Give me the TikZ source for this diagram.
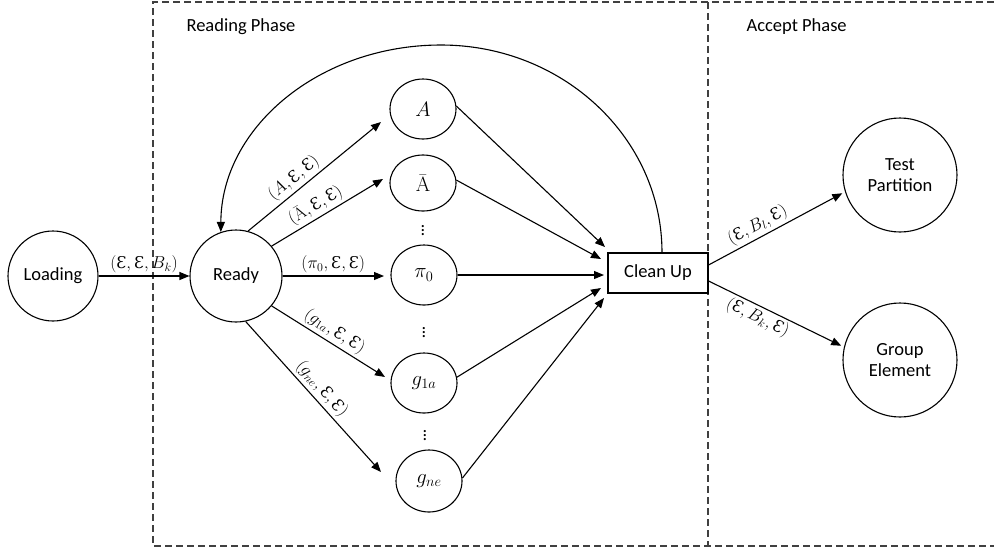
\documentclass[tikz,border=0pt]{standalone}
\usepackage[no-math]{fontspec}
\setmainfont{Carlito}
\newfontfamily\efont[Scale=0.9]{DejaVu Serif}
\usetikzlibrary{arrows.meta,shapes.geometric}
\newcommand{\ee}{\mbox{\efont Ɛ}}
\begin{document}
\begin{tikzpicture}[x=1pt,y=-1pt,
  every node/.style={font=\fontsize{18.5}{21}\selectfont, text=black},
  st/.style={circle, draw, line width=1.1pt, inner sep=0pt},
  el/.style={ellipse, draw, line width=1.1pt, minimum width=66pt, minimum height=60pt, inner sep=0pt, font=\fontsize{21}{24}\selectfont},
  arr/.style={line width=1.1pt, -{Triangle[length=10pt,width=8pt]}},
  lab/.style={font=\fontsize{18}{20}\selectfont, sloped, inner sep=2.5pt},
  frame/.style={dash pattern=on 7pt off 4pt, line width=1.2pt, draw=black!75},
  dots/.style={inner sep=0pt, font=\fontsize{18}{19}\selectfont}
]
\useasboundingbox (0,0) rectangle (994,550);

% frame
\draw[frame] (994,2) -- (153,2) -- (153,546) -- (994,546);
\draw[frame] (708,2) -- (708,546);
\node[anchor=west] (rp) at (183,27) {Reading Phase};
\node[anchor=west] (ap) at (743,27) {Accept Phase};

% nodes
\node[st, minimum size=90pt] (load) at (53,276) {Loading};
\node[st, minimum size=92pt] (ready) at (236,276) {Ready};
\node[el] (A) at (423,109) {$A$};
\node[el, minimum height=56pt] (Ab) at (423,183) {$\bar{\mathrm{A}}$};
\node[dots] (d1) at (423,228) {$\vdots$};
\node[el] (pi) at (424,275) {$\pi_0$};
\node[dots] (d2) at (424,330) {$\vdots$};
\node[el] (g1) at (424,383) {$g_{1a}$};
\node[dots] (d3) at (425,433) {$\vdots$};
\node[el, minimum height=62pt] (gn) at (429,481) {$g_{ne}$};
\node[draw, line width=1.1pt, minimum width=100pt, minimum height=40pt, inner sep=0pt] (cu) at (658,273) {Clean Up};
\node[st, minimum size=114pt, align=center] (tp) at (900,175) {Test\\Partition};
\node[st, minimum size=114pt, align=center] (ge) at (900,360) {Group\\Element};

% free arrow ends
\coordinate (tA) at (381,122);
\coordinate (tAb) at (383,179);
\coordinate (tPi) at (384,276);
\coordinate (tG1) at (385,377);
\coordinate (tGn) at (381,472);
\coordinate (cA) at (605,247);
\coordinate (cAb) at (601,259);
\coordinate (cPi) at (604,275);
\coordinate (cG1) at (601,288);
\coordinate (cGn) at (604,298);

% connectors
\draw[arr] (load) -- (ready) node[lab, midway, above] {$(\ee,\ee,B_k)$};
\draw[arr] (ready.75) -- (tA) node[lab, pos=0.40, above] {$(A,\ee,\ee)$};
\draw[arr] (ready.40) -- (tAb) node[lab, pos=0.45, above] {$(\bar{\mathrm{A}},\ee,\ee)$};
\draw[arr] (ready.east) -- (tPi) node[lab, pos=0.5, above] {$(\pi_0,\ee,\ee)$};
\draw[arr] (ready.-40) -- (tG1) node[lab, pos=0.5, above] {$(g_{1a},\ee,\ee)$};
\draw[arr] (ready.-78) -- (tGn) node[lab, pos=0.5, above] {$(g_{ne},\ee,\ee)$};

\draw[arr] (A.5) -- (cA);
\draw[arr] (Ab.5) -- (cAb);
\draw[arr] (pi.east) -- (cPi);
\draw[arr] (g1.10) -- (cG1);
\draw[arr] (gn.5) -- (cGn);

\draw[arr] ([xshift=4pt]cu.north) .. controls (662,138) and (563,45) .. (441,45)
  .. controls (319,45) and (221,128) .. (ready.109);

\draw[arr, shorten >=3pt] (cu.9) -- (tp.197) node[lab, pos=0.4, above] {$(\ee,B_l,\ee)$};
\draw[arr, shorten >=3pt] (cu.-9) -- (ge.167) node[lab, pos=0.4, below] {$(\ee,B_k,\ee)$};
\end{tikzpicture}
\end{document}
